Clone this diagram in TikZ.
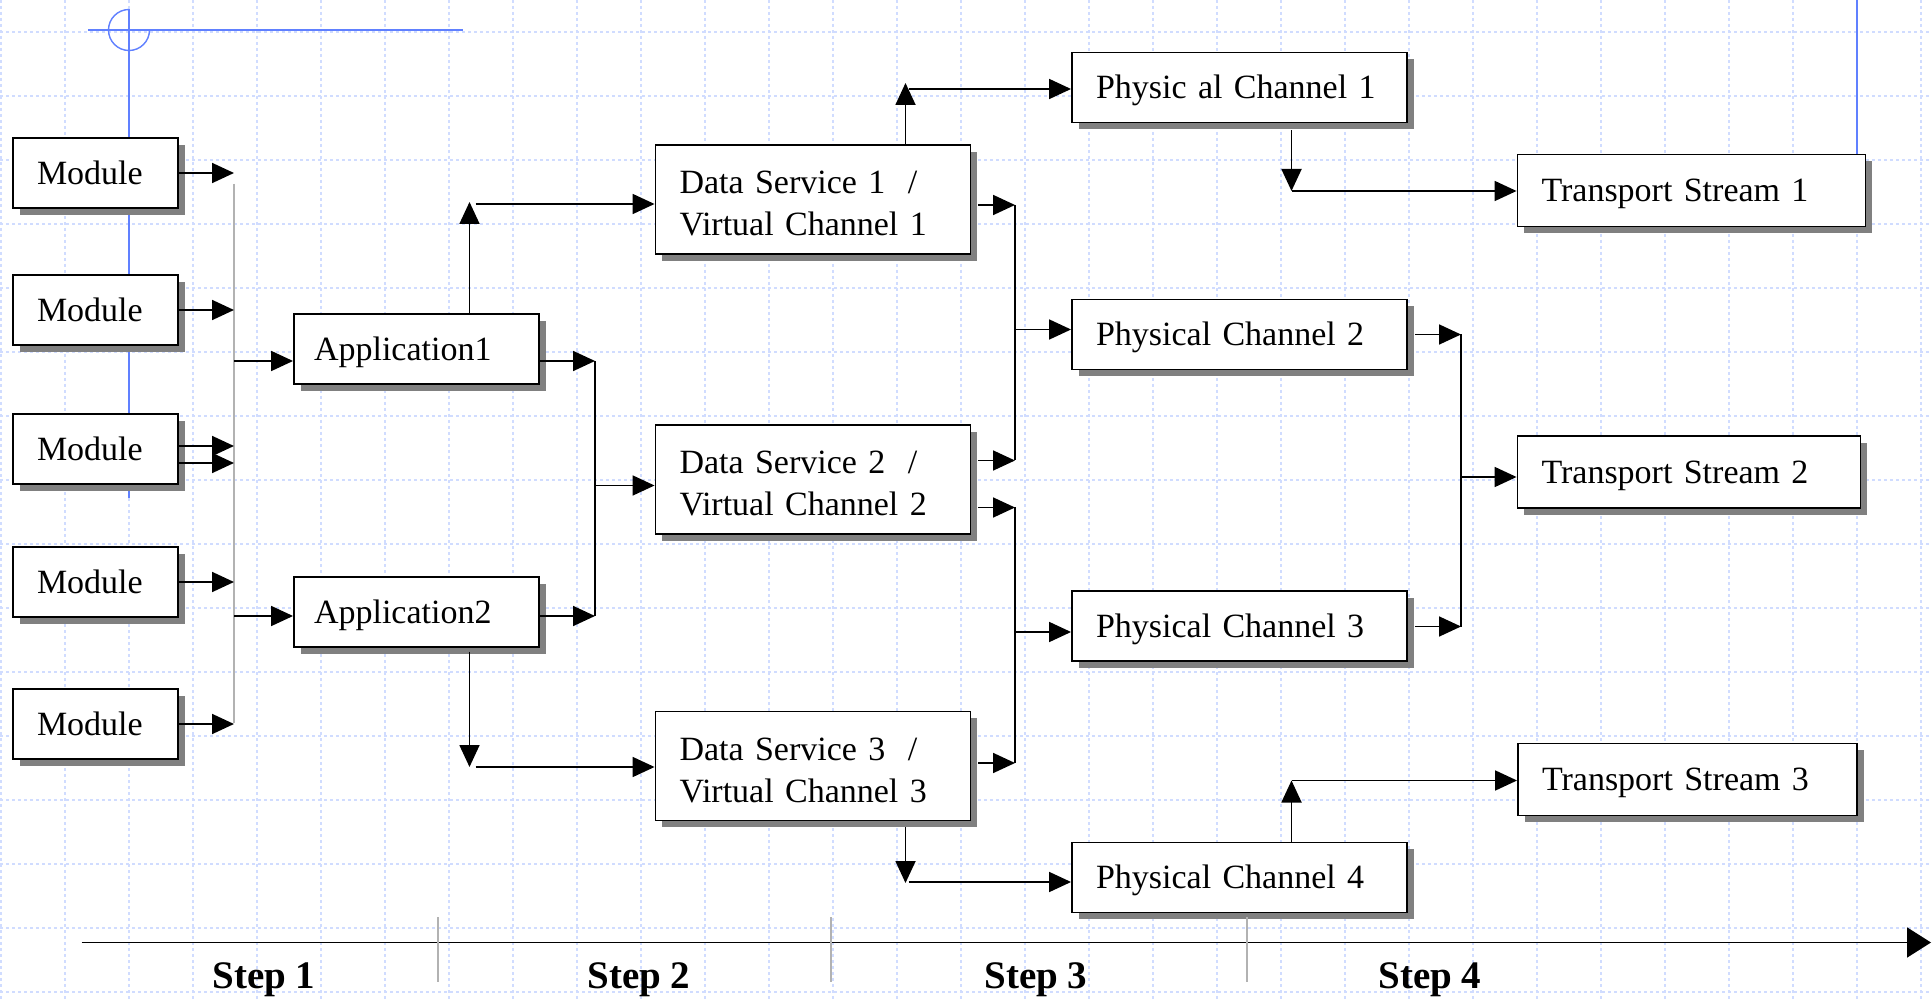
\documentclass[tikz,border=0pt]{standalone}
\usepackage{fontspec}
\setmainfont{Liberation Serif}
\usepackage{tikz}
\usetikzlibrary{positioning,arrows.meta,shadows,calc}
\definecolor{muxGrid}{RGB}{208,220,255}
\definecolor{muxGuide}{RGB}{96,128,255}
\definecolor{muxShadow}{RGB}{128,128,128}
\tikzset{
  mux/box/.style={draw, line width=0.95pt, fill=white, align=left,
                  inner xsep=12pt, inner ysep=0pt,
                  text height=11.25pt, text depth=0pt,
                  font=\fontsize{17}{21}\selectfont,
                  drop shadow={shadow xshift=3.3pt, shadow yshift=-3.3pt,
                               fill=muxShadow, opacity=1}},
  mux/module/.style={mux/box, text width=58.5pt, minimum height=35pt},
  mux/app/.style={mux/box, inner xsep=10pt, text width=102.5pt, minimum height=35pt},
  mux/service/.style={mux/box, text width=133.5pt, minimum height=54.5pt,
                      text height=15pt, text depth=21pt},
  mux/phys/.style={mux/box, text width=143.5pt, minimum height=35pt},
  mux/stream/.style={mux/box, text width=147.5pt, minimum height=36pt},
  mux/arrow/.style={-{Triangle[length=11pt, width=10pt]}, line width=0.9pt},
  mux/line/.style={line width=0.9pt},
  mux/bus/.style={line width=0.8pt, draw=black!30},
  mux/tick/.style={line width=1pt, draw=black!30},
  mux/axis/.style={-{Triangle[length=12pt, width=15pt]}, line width=0.9pt},
  mux/steplbl/.style={font=\fontsize{19.5}{22}\selectfont\bfseries,
                      anchor=base, inner sep=0pt},
  mux/grid/.style={draw=muxGrid, line width=0.9pt, dash pattern=on 1.5pt off 1.5pt},
  mux/guide/.style={draw=muxGuide, line width=0.7pt},
}

\begin{document}
\begin{tikzpicture}[x=0.5pt, y=-0.5pt]
  \path[use as bounding box, fill=white] (0,0) rectangle (1932,999);

  % ---------------- background grid ----------------
  \foreach \gx in {0,...,30}
    \draw[mux/grid] (1.3+64*\gx,0) -- (1.3+64*\gx,999);
  \foreach \gy in {0,...,15}
    \draw[mux/grid] (0,32.3+64*\gy) -- (1932,32.3+64*\gy);

  % guide marks left over on the page
  \draw[mux/guide] (129,9.5) -- (129,498);
  \draw[mux/guide] (88,30) -- (463,30);
  \draw[mux/guide] (129,9.5) arc[start angle=90, end angle=360, radius=10.25pt];
  \draw[mux/guide] (1857,0) -- (1857,154);

  % ---------------- step 1: modules ----------------
  \node[mux/module] (mod1) at (95.5,173) {Module};
  \node[mux/module] (mod2) at (95.5,310) {Module};
  \node[mux/module] (mod3) at (95.5,449) {Module};
  \node[mux/module] (mod4) at (95.5,582) {Module};
  \node[mux/module] (mod5) at (95.5,724) {Module};

  % ---------------- step 2: applications ----------------
  \node[mux/app] (app1) at (416.5,349) {Application1};
  \node[mux/app] (app2) at (416.5,612) {Application2};

  % ---------------- step 3: data services ----------------
  \node[mux/service] (ds1) at (813,199.5) {Data Service 1~~/\\Virtual Channel 1};
  \node[mux/service] (ds2) at (813,479.5) {Data Service 2~~/\\Virtual Channel 2};
  \node[mux/service] (ds3) at (813,766) {Data Service 3~~/\\Virtual Channel 3};

  % ---------------- physical channels ----------------
  \node[mux/phys] (pc1) at (1239.5,87.5) {Physic al Channel 1};
  \node[mux/phys] (pc2) at (1239.5,334.5) {Physical Channel 2};
  \node[mux/phys] (pc3) at (1239.5,626) {Physical Channel 3};
  \node[mux/phys] (pc4) at (1239.5,877.5) {Physical Channel 4};

  % ---------------- step 4: transport streams ----------------
  \node[mux/stream, text width=150pt] (ts1) at (1691.5,190.5) {Transport Stream 1};
  \node[mux/stream] (ts2) at (1689,472) {Transport Stream 2};
  \node[mux/stream, text width=145.5pt] (ts3) at (1687.5,779.5) {Transport Stream 3};

  % ---------------- modules -> applications ----------------
  \coordinate (busTop) at (234,184);
  \coordinate (busBot) at (234,723);
  \draw[mux/bus] (busTop) -- (busBot);
  \coordinate (mod3a) at ([yshift=1.5pt]mod3.east);
  \coordinate (mod3b) at ([yshift=-7pt]mod3.east);
  \draw[mux/arrow] (mod1.east) -- (mod1.east -| busTop);
  \draw[mux/arrow] (mod2.east) -- (mod2.east -| busTop);
  \draw[mux/arrow] (mod3a) -- (mod3a -| busTop);
  \draw[mux/arrow] (mod3b) -- (mod3b -| busTop);
  \draw[mux/arrow] (mod4.east) -- (mod4.east -| busTop);
  \draw[mux/arrow] (mod5.east) -- (mod5.east -| busTop);

  \coordinate (app1in) at ([yshift=-6pt]app1.west);
  \coordinate (app2in) at ([yshift=-2pt]app2.west);
  \draw[mux/arrow] (app1in -| busTop) -- (app1in);
  \draw[mux/arrow] (app2in -| busTop) -- (app2in);

  % ---------------- applications -> data services ----------------
  \coordinate (joinA) at (595,361);
  \coordinate (joinB) at (595,616);
  \draw[mux/line] (joinA) -- (joinB);
  \draw[mux/arrow] (app1in -| app1.east) -- (joinA);
  \draw[mux/arrow] (app2in -| app2.east) -- (joinB);
  \coordinate (ds2in) at ([yshift=-3pt]ds2.west);
  \draw[mux/arrow] (ds2in -| joinA) -- (ds2in);

  % up from Application1, down from Application2
  \coordinate (turn1) at (469.5,202);
  \coordinate (turn1h) at ([shift={(3pt,-1pt)}]turn1);
  \draw[mux/arrow] (app1.north -| turn1) -- (turn1);
  \draw[mux/arrow] (turn1h) -- (turn1h -| ds1.west);
  \coordinate (turn2) at (469.5,767);
  \coordinate (turn2h) at ([xshift=3pt]turn2);
  \draw[mux/arrow] ($(app2.south -| turn2)+(0,-2pt)$) -- (turn2);
  \draw[mux/arrow] (turn2h) -- (turn2h -| ds3.west);

  % ---------------- data services -> physical channels ----------------
  \coordinate (colA) at (1015,205);
  \coordinate (colB) at (1015,460.5);
  \coordinate (colC) at (1015,507.5);
  \coordinate (colD) at (1015,763);
  \draw[mux/line] (colA) -- (colB);
  \draw[mux/line] (colC) -- (colD);
  \draw[mux/arrow] ($(colA -| ds1.east)+(3.3pt,0)$) -- (colA);
  \draw[mux/arrow] ($(colB -| ds2.east)+(3.3pt,0)$) -- (colB);
  \draw[mux/arrow] ($(colC -| ds2.east)+(3.3pt,0)$) -- (colC);
  \draw[mux/arrow] ($(colD -| ds3.east)+(3.3pt,0)$) -- (colD);
  \coordinate (pc2in) at ([yshift=2.5pt]pc2.west);
  \coordinate (pc3in) at ([yshift=-3pt]pc3.west);
  \draw[mux/arrow] (pc2in -| colA) -- (pc2in);
  \draw[mux/arrow] (pc3in -| colA) -- (pc3in);

  \coordinate (turn3) at (905.5,83);
  \coordinate (turn3h) at ([shift={(1.5pt,-3pt)}]turn3);
  \draw[mux/arrow] (ds1.north -| turn3) -- (turn3);
  \draw[mux/arrow] (turn3h) -- (turn3h -| pc1.west);
  \coordinate (turn4) at (905.5,883);
  \coordinate (turn4h) at ([shift={(1.5pt,0.5pt)}]turn4);
  \draw[mux/arrow] ($(ds3.south -| turn4)+(0,-3pt)$) -- (turn4);
  \draw[mux/arrow] (turn4h) -- (turn4h -| pc4.west);

  % ---------------- physical channels -> transport streams ----------------
  \coordinate (turn5) at (1291.5,191);
  \draw[mux/arrow] ($(pc1.south -| turn5)+(0,-3.5pt)$) -- (turn5);
  \draw[mux/arrow] (turn5) -- (turn5 -| ts1.west);
  \coordinate (turn6) at (1291.5,780.5);
  \draw[mux/arrow] (pc4.north -| turn6) -- (turn6);
  \draw[mux/arrow] (turn6) -- (turn6 -| ts3.west);

  \coordinate (joinC) at (1461,334.5);
  \coordinate (joinD) at (1461,626.5);
  \draw[mux/line] (joinC) -- (joinD);
  \draw[mux/arrow] ($(joinC -| pc2.east)+(3.5pt,0)$) -- (joinC);
  \draw[mux/arrow] ($(joinD -| pc3.east)+(3.5pt,0)$) -- (joinD);
  \coordinate (ts2in) at ([yshift=-2.5pt]ts2.west);
  \draw[mux/arrow] (ts2in -| joinC) -- (ts2in);

  % ---------------- step axis ----------------
  \coordinate (axisL) at (81.5,942.5);
  \coordinate (axisR) at (1931,942.5);
  \draw[mux/axis] (axisL) -- (axisR);
  \foreach \tx in {438,831,1247}
    \draw[mux/tick] (\tx,917) -- (\tx,982);
  \node[mux/steplbl] (step1) at (264,988) {Step 1};
  \node[mux/steplbl] (step2) at (639,988) {Step 2};
  \node[mux/steplbl] (step3) at (1036,988) {Step 3};
  \node[mux/steplbl] (step4) at (1430,988) {Step 4};

\end{tikzpicture}
\end{document}
